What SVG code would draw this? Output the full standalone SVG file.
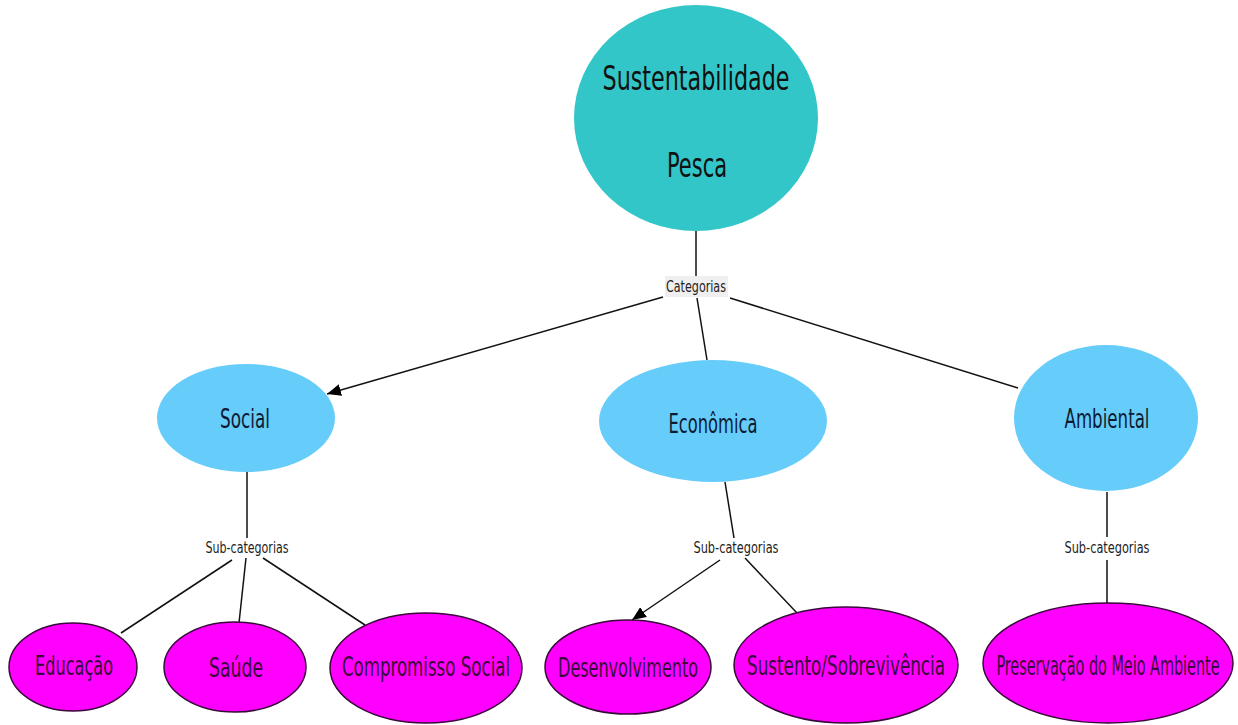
<svg xmlns="http://www.w3.org/2000/svg" width="1238" height="725" viewBox="0 0 1238 725">
<style>
text{font-family:"DejaVu Sans Condensed","DejaVu Sans","Liberation Sans",sans-serif;text-anchor:middle}
.root{fill:#33C6C9}
.cat{fill:#66CCFA}
.sub{fill:#FF00FF;stroke:#3A0A3A;stroke-width:1.5}
.t-root{fill:#111;font-size:33px}
.t-cat{fill:#0E1B33;font-size:26px}
.t-sub{fill:#3A0A3A;font-size:26px}
.lbl{fill:#222;font-size:16px}
.line{stroke:#111;stroke-width:1.5;fill:none}
</style>
<defs>
<marker id="arrow" markerUnits="userSpaceOnUse" markerWidth="14" markerHeight="12" viewBox="0 0 14 12" refX="14" refY="6" orient="auto">
<path d="M0,0 L14,6 L0,12 z" fill="#000"/>
</marker>
</defs>
<rect width="1238" height="725" fill="#fff"/>
<g id="connectors">
<line class="line" x1="696" y1="230" x2="696" y2="277"/>
<rect x="665" y="276" width="63" height="21" fill="#EFEFEF"/>
<text class="lbl" x="696" y="292" textLength="60" lengthAdjust="spacingAndGlyphs">Categorias</text>
<line class="line" x1="663" y1="297" x2="327" y2="394" marker-end="url(#arrow)"/>
<line class="line" x1="697" y1="298" x2="707" y2="360"/>
<line class="line" x1="730" y1="298" x2="1018" y2="388"/>
<line class="line" x1="247" y1="472" x2="247" y2="538"/>
<text class="lbl" x="247" y="553" textLength="83" lengthAdjust="spacingAndGlyphs">Sub-categorias</text>
<line class="line" x1="232" y1="560" x2="121" y2="633"/>
<line class="line" x1="246" y1="558" x2="239" y2="623"/>
<line class="line" x1="263" y1="558" x2="365" y2="625"/>
<line class="line" x1="725" y1="482" x2="734" y2="538"/>
<text class="lbl" x="736" y="553" textLength="85" lengthAdjust="spacingAndGlyphs">Sub-categorias</text>
<line class="line" x1="720" y1="560" x2="632" y2="620" marker-end="url(#arrow)"/>
<line class="line" x1="745" y1="558" x2="797" y2="613"/>
<line class="line" x1="1107" y1="492" x2="1107" y2="537"/>
<text class="lbl" x="1107" y="553" textLength="85" lengthAdjust="spacingAndGlyphs">Sub-categorias</text>
<line class="line" x1="1107" y1="560" x2="1107" y2="603"/>
</g>
<g id="node-sustentabilidade">
<ellipse class="root" cx="696" cy="118" rx="122" ry="113"/>
<text class="t-root" x="696" y="90" textLength="187" lengthAdjust="spacingAndGlyphs">Sustentabilidade</text>
<text class="t-root" x="697" y="177" textLength="60" lengthAdjust="spacingAndGlyphs">Pesca</text>
</g>
<g id="node-social">
<ellipse class="cat" cx="246" cy="418" rx="89" ry="54"/>
<text class="t-cat" x="245" y="428" textLength="50" lengthAdjust="spacingAndGlyphs">Social</text>
</g>
<g id="node-economica">
<ellipse class="cat" cx="713" cy="421" rx="114" ry="61"/>
<text class="t-cat" x="713" y="433" textLength="89" lengthAdjust="spacingAndGlyphs">Econômica</text>
</g>
<g id="node-ambiental">
<ellipse class="cat" cx="1106" cy="418" rx="92" ry="73"/>
<text class="t-cat" x="1107" y="428" textLength="85" lengthAdjust="spacingAndGlyphs">Ambiental</text>
</g>
<g id="node-educacao">
<ellipse class="sub" cx="73" cy="667" rx="64" ry="44"/>
<text class="t-sub" x="74" y="675" textLength="78" lengthAdjust="spacingAndGlyphs">Educação</text>
</g>
<g id="node-saude">
<ellipse class="sub" cx="235" cy="667" rx="71" ry="45"/>
<text class="t-sub" x="236" y="677" textLength="54" lengthAdjust="spacingAndGlyphs">Saúde</text>
</g>
<g id="node-compromisso">
<ellipse class="sub" cx="426" cy="668" rx="96" ry="55"/>
<g transform="translate(426 676) scale(0.67 1)">
<text class="t-sub" x="0" y="0" textLength="251" lengthAdjust="spacingAndGlyphs">Compromisso Social</text>
</g>
</g>
<g id="node-desenvolvimento">
<ellipse class="sub" cx="628" cy="667" rx="83" ry="47"/>
<g transform="translate(628 677) scale(0.686 1)">
<text class="t-sub" x="0" y="0" textLength="204" lengthAdjust="spacingAndGlyphs">Desenvolvimento</text>
</g>
</g>
<g id="node-sustento">
<ellipse class="sub" cx="846" cy="665" rx="112" ry="58"/>
<g transform="translate(846 675) scale(0.715 1)">
<text class="t-sub" x="0" y="0" textLength="277" lengthAdjust="spacingAndGlyphs">Sustento/Sobrevivência</text>
</g>
</g>
<g id="node-preservacao">
<ellipse class="sub" cx="1108" cy="663" rx="125" ry="60"/>
<g transform="translate(1108 675) scale(0.62 1)">
<text class="t-sub" x="0" y="0" textLength="360" lengthAdjust="spacingAndGlyphs">Preservação do Meio Ambiente</text>
</g>
</g>
</svg>
